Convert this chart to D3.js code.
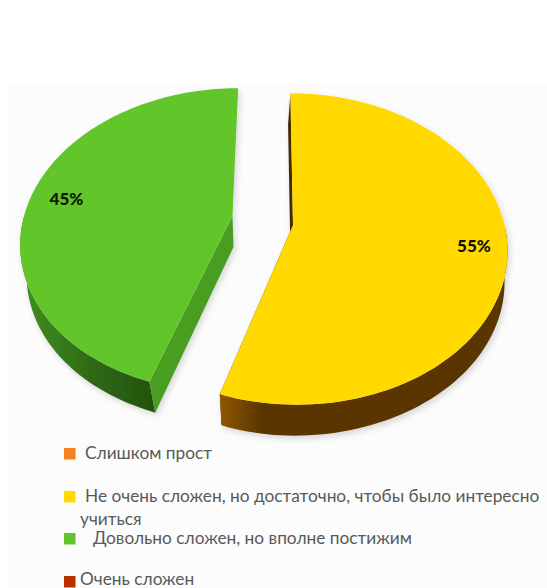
<!DOCTYPE html>
<html>
<head>
<meta charset="utf-8">
<script src="https://cdn.jsdelivr.net/npm/d3@7"></script>
<style>
  html, body { margin: 0; padding: 0; background: #fff; }
  svg { display: block; }
</style>
</head>
<body>
<svg id="chart" width="547" height="588"></svg>
<script>
// Survey answers, in legend order
const categories = [
  "Слишком прост",
  "Не очень сложен, но достаточно, чтобы было интересно учиться",
  "Довольно сложен, но вполне постижим",
  "Очень сложен"
];
const shares = [0, 55, 45, 0];
const sliceColors = ["#f5821f", "#ffd900", "#62c52b", "#b83200"];

// Exploded, tilted slices: each has its own apex and perspective
const sliceFrames = [
  null,
  { apex: [293, 225], rx: 211.5, ry: 152, k: 0.154, lean: -3, label: [474, 245],
    cutWall: "#5a3500", wall: ["#8f5800", "#5a3500", "#5a3500"], wallStops: [220, 262, 500] },
  { apex: [232.5, 216], rx: 208.5, ry: 148, k: 0.158, lean: 6.5, label: [66.5, 198],
    cutWall: "#4a9e24", wall: ["#3f8a20", "#2f6b17", "#24530f"], wallStops: [30, 90, 150] },
  null
];
const depth = 31;
const vanishX = 250;
const taper = 0.058;

const svg = d3.select("#chart");
const defs = svg.append("defs");

const shadow = defs.append("filter").attr("id", "soft")
  .attr("x", "-10%").attr("y", "-10%").attr("width", "120%").attr("height", "120%");
shadow.append("feDropShadow")
  .attr("dx", 2).attr("dy", 3).attr("stdDeviation", 3)
  .attr("flood-color", "#000").attr("flood-opacity", 0.15);

// Faint backdrop panel behind the pie and legend
svg.append("rect")
  .attr("x", 8).attr("y", 84).attr("width", 539).attr("height", 504)
  .attr("fill", "#fcfcfc");

const pie = d3.pie().sort(null).startAngle(0).endAngle(2 * Math.PI);
const arcs = pie(shares);
const line = d3.line();

function projector(f) {
  return function (angle, r) {
    const u = r * Math.sin(angle), v = -r * Math.cos(angle);
    const d = 1 - f.k * v;
    return [f.apex[0] + (f.rx * u - f.lean * v) / d, f.apex[1] + f.ry * v / d];
  };
}
// Bottom face of the extrusion, drawn slightly toward the vanishing column
const lower = p => [p[0] + Math.max(-3, Math.min(6.5, taper * (vanishX - p[0]))), p[1] + depth];

const pieGroup = svg.append("g").attr("filter", "url(#soft)");

arcs.forEach((a, i) => {
  const f = sliceFrames[i];
  if (!f || a.value <= 0) return;
  const project = projector(f);
  const steps = d3.range(0, 121).map(d3.scaleLinear([0, 120], [a.startAngle, a.endAngle]));
  const rim = steps.map(t => project(t, 1));
  const apex = project(0, 0);
  const g = pieGroup.append("g");

  const gradId = "wall" + i;
  const grad = defs.append("linearGradient").attr("id", gradId)
    .attr("gradientUnits", "userSpaceOnUse")
    .attr("x1", f.wallStops[0]).attr("x2", f.wallStops[2]).attr("y1", 0).attr("y2", 0);
  const offset = d3.scaleLinear([f.wallStops[0], f.wallStops[2]], [0, 1]);
  f.wall.forEach((c, j) => grad.append("stop").attr("offset", offset(f.wallStops[j])).attr("stop-color", c));

  const startCorner = rim[0], endCorner = rim[rim.length - 1];
  const cut = c => line([apex, c, lower(c), lower(apex)]) + "Z";
  const nearRim = rim.filter(p => p[1] > apex[1]);

  if (i === 1) {
    // the far cut edge shows as a thin dark strip; the near one stays hidden
    g.append("path").attr("d", cut(endCorner)).attr("fill", f.cutWall);
    g.append("path").attr("d", cut(startCorner)).attr("fill", "#4a2c00");
  }
  g.append("path")
    .attr("d", line(nearRim.concat(nearRim.map(lower).reverse())) + "Z")
    .attr("fill", `url(#${gradId})`);
  if (i === 2) {
    g.append("path").attr("d", cut(startCorner)).attr("fill", f.cutWall);
  }
  g.append("path")
    .attr("d", line([apex].concat(rim)) + "Z")
    .attr("fill", sliceColors[i]);
});

// Percent labels
arcs.forEach((a, i) => {
  const f = sliceFrames[i];
  if (!f || a.value <= 0) return;
  svg.append("text")
    .attr("x", f.label[0]).attr("y", f.label[1])
    .attr("text-anchor", "middle").attr("dominant-baseline", "central")
    .attr("font-family", "Lato, 'Open Sans', sans-serif")
    .attr("font-weight", 900).attr("font-size", 17).attr("fill", "#141405")
    .text(d3.format(".0%")(a.value / d3.sum(shares)));
});

// Legend: the long entry wraps onto a second line
const legendRows = [
  { swatchY: 448, lines: [{ x: 85, y: 459, words: categories[0] }] },
  { swatchY: 491, lines: [
    { x: 85, y: 502, words: categories[1].replace(/ учиться$/, "") },
    { x: 80, y: 525, words: "учиться" } ] },
  { swatchY: 533, lines: [{ x: 93, y: 544, words: categories[2] }] },
  { swatchY: 576, lines: [{ x: 80, y: 584.5, words: categories[3] }] }
];
const legend = svg.append("g");
legendRows.forEach((row, i) => {
  legend.append("rect")
    .attr("x", 64).attr("y", row.swatchY).attr("width", 11.5).attr("height", 11.5)
    .attr("fill", sliceColors[i]);
  row.lines.forEach(l => legend.append("text")
    .attr("x", l.x).attr("y", l.y)
    .attr("font-family", "Lato, 'Open Sans', sans-serif")
    .attr("font-size", 17.3).attr("fill", "#595959")
    .text(l.words));
});
</script>
</body>
</html>
